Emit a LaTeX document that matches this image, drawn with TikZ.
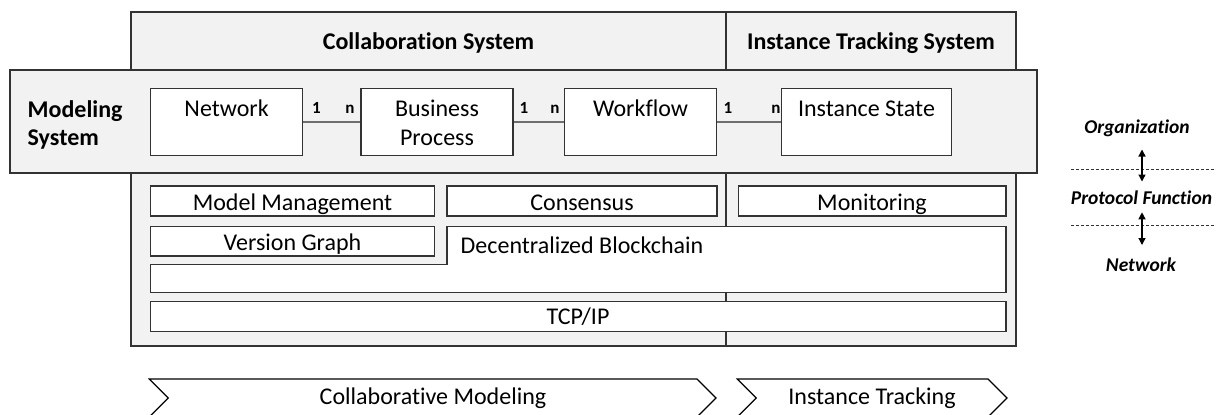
\documentclass[tikz,border=0pt]{standalone}
\usepackage{fontspec}
\setmainfont{Carlito}[Ligatures=NoCommon]
\usetikzlibrary{fit,arrows.meta}
\definecolor{panel}{HTML}{F2F2F2}
\definecolor{edge}{HTML}{333333}
\definecolor{conn}{HTML}{6E6E6E}
\begin{document}
\begin{tikzpicture}[x=1pt,y=-1pt,
  panelbox/.style={draw=edge, line width=1.2pt, fill=panel, inner sep=0pt},
  wbox/.style={draw=edge, line width=1.2pt, fill=white, inner sep=0pt},
  txt/.style={font=\fontsize{24}{29}\selectfont, inner sep=0pt, align=center},
  one/.style={font=\fontsize{24}{29}\selectfont, inner sep=0pt, text height=17pt, text depth=5pt},
  btxt/.style={font=\fontsize{24}{28}\selectfont\bfseries, inner sep=0pt},
  bone/.style={btxt, text height=17pt, text depth=5pt},
  card/.style={font=\fontsize{17}{20}\selectfont\bfseries, inner sep=0pt, text height=11pt, text depth=0pt},
  connline/.style={draw=conn, line width=1.3pt},
  divline/.style={draw=edge, line width=1.2pt},
  layer/.style={font=\fontsize{19.5}{23}\selectfont\bfseries\itshape, inner sep=0pt, text height=14pt, text depth=4.5pt},
  dline/.style={draw=edge, line width=0.8pt, dash pattern=on 3pt off 2pt},
  dbl/.style={line width=1.3pt, {Triangle[width=7pt,length=7pt]}-{Triangle[width=7pt,length=7pt]}},
  chev/.style={draw=black, line width=1.2pt, fill=white}
]
\path[use as bounding box, clip] (0,0) rectangle (1216,415);

% outer collaboration / instance tracking panel
\node[panelbox, fit={(131,12) (1016,346)}] (collab) {};
\coordinate (dtop) at (726,12);
\coordinate (dbot) at (726,346);
\draw[divline] (dtop) -- (dbot);
\node[bone] (cst) at (428.5,43) {Collaboration System};
\node[bone] (its) at (871,43) {Instance Tracking System};

% modeling system band
\node[panelbox, fit={(10,70) (1037,173)}] (model) {};
\node[btxt, align=left, anchor=base west] (mst) at (27.5,145) {Modeling\\System};

\node[wbox, fit={(150.5,88.3) (302.8,155.7)}] (net) {};
\node[wbox, fit={(361,88.3) (513,155.7)}] (bp) {};
\node[wbox, fit={(564.6,88.3) (716.7,155.7)}] (wf) {};
\node[wbox, fit={(781.5,88.3) (951.6,155.7)}] (ist) {};

\node[one] (nett) at (226.6,110) {Network};
\node[txt, anchor=base] (bpt) at (437,145) {Business\\Process};
\node[one] (wft) at (640.6,110) {Workflow};
\node[one] (istt) at (866.5,110) {Instance State};

\draw[connline] (net.east) -- (bp.west);
\draw[connline] (bp.east) -- (wf.west);
\draw[connline] (wf.east) -- (ist.west);

\node[card] (c1a) at (316.5,107.8) {1};
\node[card] (c1b) at (350,107.8) {n};
\node[card] (c2a) at (524,107.8) {1};
\node[card] (c2b) at (555,107.8) {n};
\node[card] (c3a) at (728,107.8) {1};
\node[card] (c3b) at (776,107.8) {n};

% lower components
\node[wbox, fit={(150.5,186) (434.5,216)}] (mm) {};
\node[wbox, fit={(447,186) (717,216)}] (cons) {};
\node[wbox, fit={(738.5,186) (1006,216)}] (mon) {};
\node[wbox, fit={(150.5,226.7) (434.5,256)}] (vg) {};
\draw[draw=edge, line width=1.2pt, fill=white]
  (447,226.7) -- (1006,226.7) -- (1006,292.7) -- (150.5,292.7) -- (150.5,264.3) -- (447,264.3) -- cycle;
\node[wbox, fit={(150.5,301.7) (1006,331.7)}] (tcp) {};

\node[one] (mmt) at (292.5,204.5) {Model Management};
\node[one] (const) at (582,204.5) {Consensus};
\node[one] (mont) at (872,204.5) {Monitoring};
\node[one] (vgt) at (292.5,244) {Version Graph};
\node[one] (bct) at (582,247.3) {Decentralized Blockchain};
\node[one] (tcpt) at (578,318) {TCP/IP};

% phase chevrons
\draw[chev] (149.3,379) -- (697,379) -- (716,398) -- (697,417) -- (149.3,417) -- (168.3,398) -- cycle;
\node[one] (cm) at (433,398) {Collaborative Modeling};
\draw[chev] (737.3,379) -- (988,379) -- (1007,398) -- (988,417) -- (737.3,417) -- (756.3,398) -- cycle;
\node[one] (itr) at (872,398) {Instance Tracking};

% layer legend
\node[layer] (org) at (1137,128.5) {Organization};
\node[layer] (pf) at (1141.5,200.2) {Protocol Function};
\node[layer] (nw) at (1141,266.3) {Network};
\coordinate (d1a) at (1071,169.5);
\coordinate (d1b) at (1216,169.5);
\coordinate (d2a) at (1071,225.5);
\coordinate (d2b) at (1216,225.5);
\draw[dline] (d1a) -- (d1b);
\draw[dline] (d2a) -- (d2b);
\coordinate (a1t) at (1142,149.5);
\coordinate (a1b) at (1142,181.5);
\coordinate (a2t) at (1142,212.3);
\coordinate (a2b) at (1142,245);
\draw[dbl] (a1t) -- (a1b);
\draw[dbl] (a2t) -- (a2b);
\end{tikzpicture}
\end{document}
